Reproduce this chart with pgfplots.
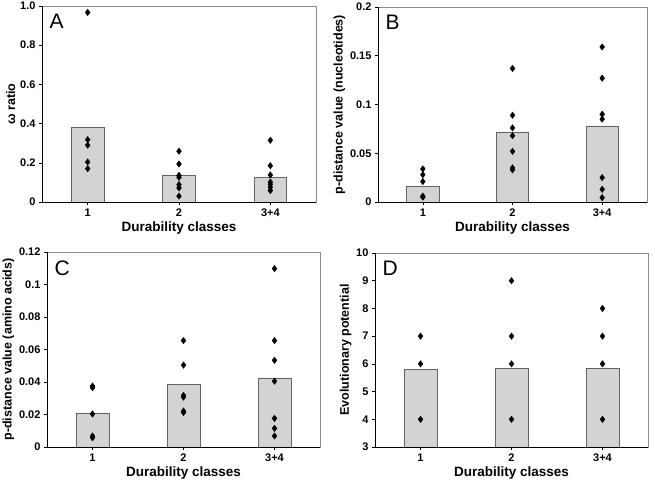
\documentclass[border=0pt]{standalone}
\usepackage{fontspec}
\setmainfont{Liberation Sans}
\usepackage{pgfplots}
\pgfplotsset{compat=1.18}

\definecolor{barfill}{RGB}{211,211,211}
\definecolor{baredge}{RGB}{100,100,100}
\definecolor{frame}{RGB}{140,140,140}

\tikzset{letter/.style={anchor=north west, font=\fontsize{21}{21}\selectfont}}

\pgfplotsset{
  panel/.style={
    scale only axis,
    xmin=-0.5, xmax=2.5,
    xtick={0,1,2}, xticklabels={1,2,3+4},
    xtick pos=bottom, ytick pos=left,
    tick align=outside, major tick length=3pt,
    tick style={black, line width=0.6pt},
    axis line style={frame, line width=0.6pt},
    ticklabel style={font=\bfseries\fontsize{11}{11}\selectfont},
    xlabel={Durability classes},
    xlabel style={font=\bfseries\fontsize{13.5}{13.5}\selectfont, yshift=1pt},
    ylabel style={font=\bfseries\fontsize{12.5}{12.5}\selectfont, yshift=-2pt},
    /pgf/number format/assume math mode=true,
    after end axis/.code={
      \draw[black, line width=0.7pt] (rel axis cs:0,1) -- (rel axis cs:0,0) -- (rel axis cs:1,0);
    },
  },
  bars/.style={ybar, bar width=0.36, fill=barfill, draw=baredge, line width=0.6pt},
  pts/.style={only marks, mark=diamond*, mark size=3.2pt, black},
}

\begin{document}
\begin{tikzpicture}
\useasboundingbox (0,0) rectangle (655pt,-480pt);

% A
\begin{axis}[panel, at={(42pt,-202pt)}, anchor=south west,
  width=274pt, height=196pt, clip=false,
  ymin=0, ymax=1, ytick={0,0.2,0.4,0.6,0.8,1},
  yticklabels={0,0.2,0.4,0.6,0.8,1.0},
  ylabel={ω ratio}]
\addplot[bars] coordinates {(0,0.381) (1,0.134) (2,0.128)};
\addplot[pts] coordinates {
  (0,0.967) (0,0.318) (0,0.290) (0,0.204) (0,0.170)
  (1,0.259) (1,0.194) (1,0.136) (1,0.126) (1,0.089) (1,0.072) (1,0.030)
  (2,0.315) (2,0.185) (2,0.138) (2,0.102) (2,0.090) (2,0.075) (2,0.058)};
\node[letter] at (rel axis cs:0.015,0.975) {A};
\end{axis}

% B
\begin{axis}[panel, at={(378pt,-202pt)}, anchor=south west,
  width=269pt, height=195pt, clip=false,
  ymin=0, ymax=0.2, ytick={0,0.05,0.1,0.15,0.2},
  yticklabels={0,0.05,0.1,0.15,0.2},
  ylabel={p-distance value (nucleotides)}]
\addplot[bars] coordinates {(0,0.016) (1,0.072) (2,0.078)};
\addplot[pts] coordinates {
  (0,0.034) (0,0.028) (0,0.021) (0,0.006) (0,0.005)
  (1,0.137) (1,0.089) (1,0.076) (1,0.068) (1,0.052) (1,0.035) (1,0.033)
  (2,0.159) (2,0.127) (2,0.090) (2,0.085) (2,0.025) (2,0.013) (2,0.0045)};
\node[letter] at (rel axis cs:0.015,0.975) {B};
\end{axis}

% C
\begin{axis}[panel, at={(47pt,-447pt)}, anchor=south west,
  width=273pt, height=195pt, clip=false,
  ymin=0, ymax=0.12, ytick={0,0.02,0.04,0.06,0.08,0.1,0.12},
  yticklabels={0,0.02,0.04,0.06,0.08,0.1,0.12},
  ylabel={p-distance value (amino acids)}]
\addplot[bars] coordinates {(0,0.021) (1,0.0385) (2,0.0425)};
\addplot[pts] coordinates {
  (0,0.0375) (0,0.0365) (0,0.0203) (0,0.0068) (0,0.0057)
  (1,0.0655) (1,0.0504) (1,0.0317) (1,0.0307) (1,0.0221) (1,0.0213)
  (2,0.1098) (2,0.0655) (2,0.0534) (2,0.0405) (2,0.0176) (2,0.0115) (2,0.0068)};
\node[letter] at (rel axis cs:0.015,0.975) {C};
\end{axis}

% D
\begin{axis}[panel, at={(375pt,-447pt)}, anchor=south west,
  width=273pt, height=194pt,
  ymin=3, ymax=10, ytick={3,4,...,10},
  ylabel={Evolutionary potential}]
\addplot[bars] coordinates {(0,5.8) (1,5.85) (2,5.85)};
\addplot[pts] coordinates {
  (0,7) (0,6) (0,4)
  (1,9) (1,7) (1,6) (1,4)
  (2,8) (2,7) (2,6) (2,4)};
\node[letter] at (rel axis cs:0.015,0.975) {D};
\end{axis}
\end{tikzpicture}
\end{document}
